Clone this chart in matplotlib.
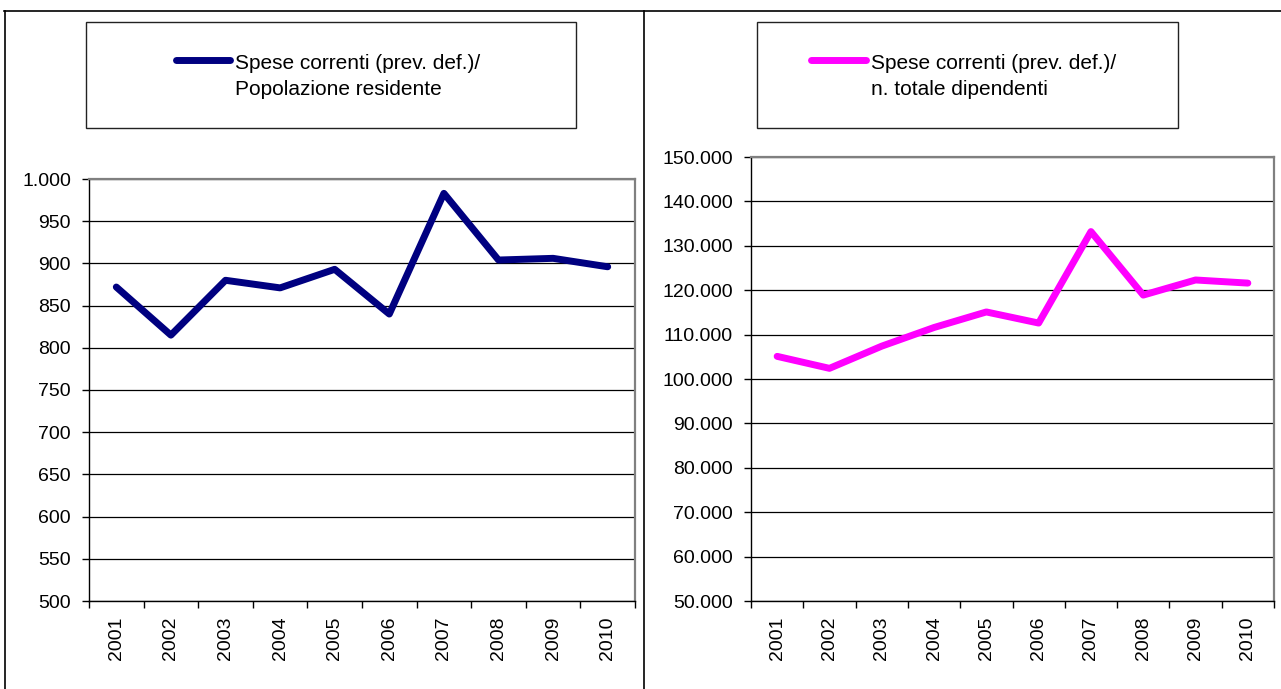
import matplotlib
matplotlib.use("Agg")
import matplotlib.pyplot as plt
from matplotlib.patches import Rectangle
from matplotlib.lines import Line2D
from matplotlib.ticker import FixedLocator, FuncFormatter

years = ["2001", "2002", "2003", "2004", "2005", "2006", "2007", "2008", "2009", "2010"]
spese_pop = [872, 815, 880, 871, 893, 840, 983, 904, 906, 896]
spese_dip = [105100, 102400, 107400, 111600, 115100, 112600, 133200, 118900, 122300, 121600]
label_left = ["Spese correnti (prev. def.)/", "Popolazione residente"]
label_right = ["Spese correnti (prev. def.)/", "n. totale dipendenti"]

plt.rcParams['font.family'] = ['Liberation Sans', 'DejaVu Sans']

W, H = 1281, 689
fig = plt.figure(figsize=(W / 100, H / 100), dpi=100)

def fx(px):
    return px / W

def fy(py):
    return 1 - py / H

def it_fmt(v, pos):
    return f"{int(round(v)):,}".replace(",", ".")

def make_axes(rect, values, color, ymin, ymax, step):
    ax = fig.add_axes(rect)
    x = list(range(len(years)))
    ax.plot(x, values, color=color, lw=5.0, solid_joinstyle='round', solid_capstyle='round', zorder=3)
    ax.set_xlim(-0.5, len(years) - 0.5)
    ax.set_ylim(ymin, ymax)
    ticks = list(range(ymin, ymax + 1, step))
    ax.yaxis.set_major_locator(FixedLocator(ticks))
    ax.yaxis.set_major_formatter(FuncFormatter(it_fmt))
    ax.set_xticks(x)
    ax.set_xticklabels(years, rotation=90, fontsize=14)
    ax.tick_params(axis='x', which='major', length=0, pad=11)
    ax.set_xticks([i - 0.5 for i in range(len(years) + 1)], minor=True)
    ax.tick_params(axis='x', which='minor', length=5, width=1, direction='out', color='black')
    ax.tick_params(axis='y', length=5, width=1, direction='out', labelsize=14, pad=8)
    ax.grid(axis='y', color='black', lw=0.9, zorder=1)
    ax.set_axisbelow(True)
    for s in ['top', 'right']:
        ax.spines[s].set_color('#808080')
        ax.spines[s].set_linewidth(1.6)
    for s in ['left', 'bottom']:
        ax.spines[s].set_color('black')
        ax.spines[s].set_linewidth(1.0)
    return ax

ax1 = make_axes([fx(89), fy(601), fx(635 - 89), (601 - 179) / H], spese_pop, '#000080', 500, 1000, 50)
ax2 = make_axes([fx(751), fy(601), fx(1274 - 751), (601 - 157) / H], spese_dip, '#FF00FF', 50000, 150000, 10000)

# outer panel borders
fig.add_artist(Line2D([fx(4), fx(1281)], [fy(11), fy(11)], color='black', lw=1.2))
fig.add_artist(Line2D([fx(4.5), fx(4.5)], [fy(11), 0], color='black', lw=1.2))
fig.add_artist(Line2D([fx(644), fx(644)], [fy(11), 0], color='black', lw=1.2))

def legend_box(x0, x1, y0, y1, lx0, lx1, ly, tx, color, lines):
    fig.add_artist(Rectangle((fx(x0), fy(y1)), fx(x1 - x0), (y1 - y0) / H,
                             fill=False, edgecolor='#222222', lw=1.0))
    fig.add_artist(Line2D([fx(lx0), fx(lx1)], [fy(ly), fy(ly)], color=color, lw=5.0,
                          solid_capstyle='round'))
    fig.text(fx(tx), fy(69), lines[0], ha='left', va='baseline', fontsize=15)
    fig.text(fx(tx), fy(95), lines[1], ha='left', va='baseline', fontsize=15)

legend_box(86, 576, 22, 128, 176, 230, 60, 235, '#000080', label_left)
legend_box(757, 1178, 22, 128, 811, 866, 60, 871, '#FF00FF', label_right)

fig.savefig("out.png", dpi=100)
